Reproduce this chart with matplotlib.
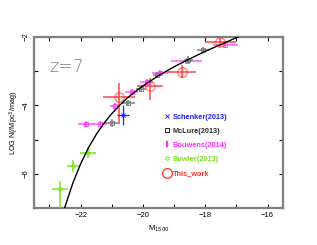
import numpy as np
import matplotlib
matplotlib.use("Agg")
import matplotlib.pyplot as plt
from matplotlib.ticker import MultipleLocator, FuncFormatter
from matplotlib.lines import Line2D

plt.rcParams['font.family'] = ['Liberation Sans', 'DejaVu Sans']

# best-fit curve
curve_M = [-22.55, -22.5, -22.25, -22.0, -21.75, -21.5, -21.25, -21.0, -20.75, -20.5,
           -20.25, -20.0, -19.5, -19.0, -18.5, -18.0, -17.5, -17.0, -16.9]
curve_logphi = [-7.11, -6.96, -6.27, -5.71, -5.24, -4.85, -4.52, -4.24, -4.00, -3.78,
                -3.60, -3.43, -3.13, -2.87, -2.64, -2.42, -2.22, -2.02, -1.98]

# Schenker(2013)
sch_M = [-20.63]
sch_phi = [-4.28]
sch_xerr = [0.19]
sch_yerr = [0.29]

# McLure(2013)
mcl_M = [-21.0, -20.47, -20.05, -19.56, -18.54, -18.06]
mcl_phi = [-4.52, -3.92, -3.52, -3.11, -2.67, -2.38]
mcl_xerr = [0.24, 0.22, 0.16, 0.13, 0.14, 0.19]
mcl_yerr = [0.12, 0.08, 0.08, 0.08, 0.10, 0.08]

# Bouwens(2014)
bou_M = [-21.83, -21.38, -20.9, -20.36, -19.88, -19.45, -18.6, -17.36]
bou_phi = [-4.54, -4.54, -4.02, -3.61, -3.32, -3.05, -2.69, -2.23]
bou_xerr = [0.25, 0.23, 0.15, 0.2, 0.2, 0.25, 0.5, 0.4]
bou_yerr = [0.08, 0.08, 0.1, 0.08, 0.08, 0.08, 0.06, 0.1]

# Bowler(2013)
bow_M = [-22.67, -22.24, -21.76]
bow_phi = [-6.44, -5.77, -5.38]
bow_xerr = [0.25, 0.2, 0.26]
bow_ylo = [0.7, 0.17, 0.15]
bow_yhi = [0.23, 0.17, 0.15]

# This_work
tw_M = [-20.76, -19.77, -18.75, -17.52]
tw_phi = [-3.76, -3.43, -3.01, -2.14]
tw_xerr = [0.51, 0.42, 0.47, 0.5]
tw_ylo = [0.78, 0.41, 0.19, 0.15]
tw_yhi = [0.42, 0.23, 0.19, 0.15]

c_sch = '#2020ff'
c_mcl = '#808080'
c_bou = '#ff30ff'
c_bow = '#80e020'
c_tw = '#ff3030'

fig = plt.figure(figsize=(3.17, 2.45), dpi=100)
ax = fig.add_axes([0.107, 0.151, 0.786, 0.698])

ax.errorbar(tw_M, tw_phi, xerr=tw_xerr, yerr=[tw_ylo, tw_yhi], fmt='o', ms=6.8,
            mfc='none', mec=c_tw, mew=0.8, ecolor=c_tw, elinewidth=1.4, alpha=0.7, capsize=0, zorder=3)
ax.errorbar(bou_M, bou_phi, xerr=bou_xerr, yerr=bou_yerr, fmt='s', ms=3,
            mfc='none', mec=c_bou, mew=0.7, ecolor=c_bou, elinewidth=1.1, alpha=0.8, capsize=0, zorder=3)
ax.errorbar(mcl_M, mcl_phi, xerr=mcl_xerr, yerr=mcl_yerr, fmt='s', ms=2.5,
            mfc='none', mec=c_mcl, mew=0.7, ecolor=c_mcl, elinewidth=1.1, capsize=0, zorder=3)
ax.errorbar(sch_M, sch_phi, xerr=sch_xerr, yerr=sch_yerr, fmt='x', ms=2.5,
            mec=c_sch, mew=0.7, ecolor=c_sch, elinewidth=0.9, capsize=0, zorder=3)
ax.errorbar(bow_M, bow_phi, xerr=bow_xerr, yerr=[bow_ylo, bow_yhi], fmt='o', ms=2.5,
            mfc='none', mec=c_bow, mew=0.7, ecolor=c_bow, elinewidth=1.1, capsize=0, zorder=3)

ax.plot(curve_M, curve_logphi, color='black', lw=1.0, zorder=4)

ax.set_xlim(-23.5, -15.5)
ax.set_ylim(-7, -2)

ax.xaxis.set_major_locator(MultipleLocator(2))
ax.xaxis.set_minor_locator(MultipleLocator(1))
ax.yaxis.set_major_locator(MultipleLocator(2))
ax.yaxis.set_minor_locator(MultipleLocator(1))
fmt = FuncFormatter(lambda v, p: '\u2212%d' % abs(round(v)) if v < 0 else '%d' % round(v))
ax.xaxis.set_major_formatter(fmt)
ax.yaxis.set_major_formatter(fmt)
ax.tick_params(which='both', direction='in', top=True, right=True, length=3,
               width=0.8, color='black', labelsize=5.5, pad=3)
for lab in ax.get_yticklabels():
    lab.set_rotation(90)
    lab.set_va('center')
for sp in ax.spines.values():
    sp.set_color('#808080')
    sp.set_linewidth(1.6)

ax.set_xlabel('M$_{1500}$', fontsize=5.5, labelpad=3)
ax.set_ylabel('LOG N(/Mpc$^3$/mag)', fontsize=5.2, labelpad=1)

ax.text(-23.0, -2.88, 'z=7', color='#808080', fontsize=12.5, va='center', ha='left',
        family='DejaVu Sans', fontweight='light')

handles = [
    Line2D([], [], ls='none', marker='x', ms=2.5, mec=c_sch, mew=0.7),
    Line2D([], [], ls='none', marker='s', ms=2.5, mfc='none', mec='black', mew=0.6),
    Line2D([], [], ls='none', marker='$\\mathbf{I}$', ms=5, mec=c_bou, mfc=c_bou, mew=0.2),
    Line2D([], [], ls='none', marker='o', ms=2.5, mfc='none', mec=c_bow, mew=0.7),
    Line2D([], [], ls='none', marker='o', ms=7, mfc='none', mec=c_tw, mew=0.9),
]
labels = ['Schenker(2013)', 'McLure(2013)', 'Bouwens(2014)', 'Bowler(2013)', 'This_work']
leg = ax.legend(handles, labels, loc='upper left', bbox_to_anchor=(0.505, 0.575),
                frameon=False, handlelength=1.0, handletextpad=0.3,
                labelspacing=0.95, borderpad=0,
                labelcolor=[c_sch, '#303030', c_bou, c_bow, c_tw],
                prop={'weight': 'bold', 'size': 5.3})

fig.savefig('out.png', dpi=100, facecolor='white')
